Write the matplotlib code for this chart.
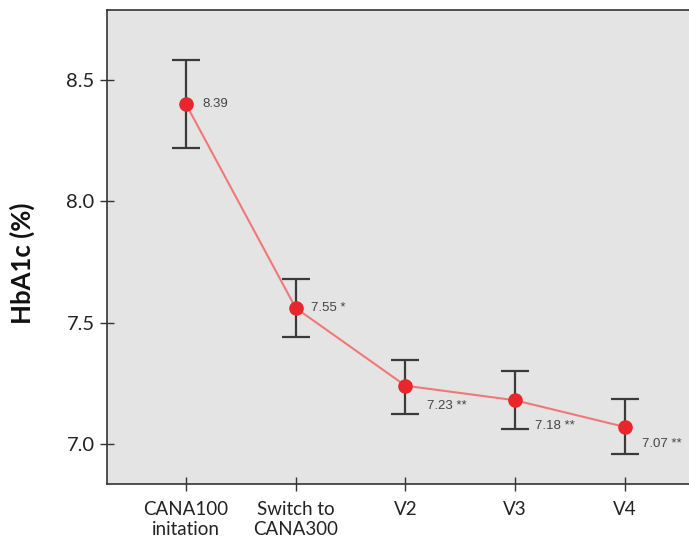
import matplotlib
matplotlib.use('Agg')
from matplotlib import pyplot as plt

visits = ['CANA100\ninitation', 'Switch to\nCANA300', 'V2', 'V3', 'V4']
hba1c = [8.40, 7.56, 7.24, 7.18, 7.07]
upper = [8.58, 7.68, 7.345, 7.30, 7.185]
lower = [8.22, 7.44, 7.125, 7.06, 6.96]
labels = ['8.39', '7.55 *', '7.23 **', '7.18 **', '7.07 **']

plt.rcParams['font.family'] = ['Lato', 'DejaVu Sans']

fig = plt.figure(figsize=(6.89, 5.39), dpi=100)
ax = fig.add_axes([0.1553, 0.102, 0.86, 0.8795])
ax.set_facecolor('#e4e4e4')

x = list(range(len(visits)))
yerr = [[m - l for m, l in zip(hba1c, lower)], [u - m for u, m in zip(upper, hba1c)]]
ax.errorbar(x, hba1c, yerr=yerr, fmt='none', ecolor='#3a3a3a', elinewidth=1.6,
            capsize=10, capthick=1.6, zorder=2)
ax.plot(x, hba1c, color='#f07878', lw=1.5, zorder=3)
ax.plot(x, hba1c, 'o', color='#e8262c', ms=9.5, zorder=4)

# value labels
offsets = [(11.5, 0), (11, 0), (15.5, -14.5), (14.5, -18.5), (12.5, -12.5)]
for i, (lab, off) in enumerate(zip(labels, offsets)):
    ax.annotate(lab, (x[i], hba1c[i]), xytext=off, textcoords='offset points',
                ha='left', va='center', fontsize=9.5, color='#444444',
                family=['Liberation Sans', 'DejaVu Sans'])

ax.set_xlim(-0.72, 4.68)
ax.set_ylim(6.835, 8.788)
ax.set_xticks(x)
ax.set_xticklabels(visits, fontsize=13.5, color='#222222', linespacing=1.25)
ax.set_yticks([7.0, 7.5, 8.0, 8.5])
ax.set_yticklabels(['7.0', '7.5', '8.0', '8.5'], fontsize=14.5, color='#222222')
ax.tick_params(direction='inout', length=10, width=1, color='#333333', pad=4)
ax.tick_params(axis='x', pad=7)
ax.spines['right'].set_visible(False)
for s in ['left', 'bottom', 'top']:
    ax.spines[s].set_color('#333333')
    ax.spines[s].set_linewidth(1.2)

ax.set_ylabel('HbA1c (%)', fontsize=18.5, fontweight='bold', color='#111111')
ax.yaxis.set_label_coords(-0.1215, 0.466)

plt.savefig('out.png', dpi=100)
